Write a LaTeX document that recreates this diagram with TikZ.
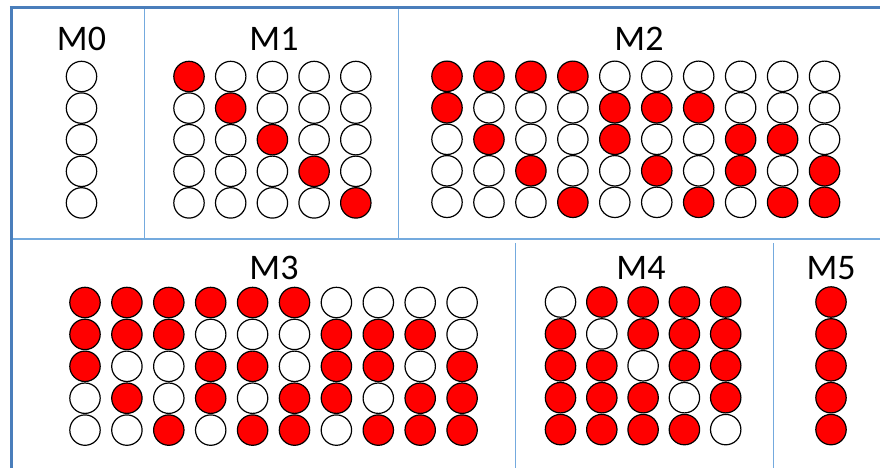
\documentclass[tikz,border=0pt]{standalone}
\usepackage{fontspec}
\setmainfont{Carlito}
\definecolor{frameblue}{RGB}{74,126,187}
\definecolor{divblue}{RGB}{116,170,222}
\newcommand\dotgrid[6]{% #1 name, #2 x0, #3 dx, #4 y0, #5 dy, #6 rows
  \foreach \rw [count=\i] in {#6} {
    \foreach \v [count=\j] in \rw {
      \ifnum\v=1 \def\fc{red}\else\def\fc{white}\fi
      \node[dotnode, fill=\fc] (#1-\i-\j) at ({#2+(\j-1)*#3},{#4+(\i-1)*#5}) {};
    }
  }
}
\begin{document}
\begin{tikzpicture}[x=1pt,y=-1pt,
  dotnode/.style={circle, draw=black, line width=1.2pt, minimum size=30.4pt, inner sep=0pt},
  lbl/.style={font=\fontsize{36}{40}\selectfont, anchor=base, inner sep=0pt},
  frameline/.style={draw=frameblue, line width=3pt},
  divline/.style={draw=divblue, line width=1.5pt}]
\useasboundingbox (0,0) rectangle (880,468);
\fill[white] (0,0) rectangle (880,468);
% frame and dividers
\draw[divline] (11,239) -- (880,239);
\draw[divline] (144.3,8) -- (144.3,239);
\draw[divline] (398.3,8) -- (398.3,239);
\draw[divline] (515.3,243) -- (515.3,468);
\draw[divline] (773.3,243) -- (773.3,468);
\draw[frameline] (9.8,8) -- (880,8);
\draw[frameline] (11.3,6.5) -- (11.3,468);
% labels
\node[lbl] (l0) at (81.5,50.5) {M0};
\node[lbl] (l1) at (274,50.5) {M1};
\node[lbl] (l2) at (639,50.5) {M2};
\node[lbl] (l3) at (274,279) {M3};
\node[lbl] (l4) at (641,279) {M4};
\node[lbl] (l5) at (831,279) {M5};
% grids
\dotgrid{m0}{81.5}{0}{76.5}{31.6}{{0},{0},{0},{0},{0}}
\dotgrid{m1}{189}{41.7}{76.5}{31.6}{{1,0,0,0,0},{0,1,0,0,0},{0,0,1,0,0},{0,0,0,1,0},{0,0,0,0,1}}
\dotgrid{m2}{447}{41.95}{76.3}{31.5}{{1,1,1,1,0,0,0,0,0,0},{1,0,0,0,1,1,1,0,0,0},{0,1,0,0,1,0,0,1,1,0},{0,0,1,0,0,1,0,1,0,1},{0,0,0,1,0,0,1,0,1,1}}
\dotgrid{m3}{85}{41.9}{302.5}{31.9}{{1,1,1,1,1,1,0,0,0,0},{1,1,1,0,0,0,1,1,1,0},{1,0,0,1,1,0,1,1,0,1},{0,1,0,1,0,1,1,0,1,1},{0,0,1,0,1,1,0,1,1,1}}
\dotgrid{m4}{560.5}{41.3}{302}{31.9}{{0,1,1,1,1},{1,0,1,1,1},{1,1,0,1,1},{1,1,1,0,1},{1,1,1,1,0}}
\dotgrid{m5}{831}{0}{302}{31.9}{{1},{1},{1},{1},{1}}
\end{tikzpicture}
\end{document}
